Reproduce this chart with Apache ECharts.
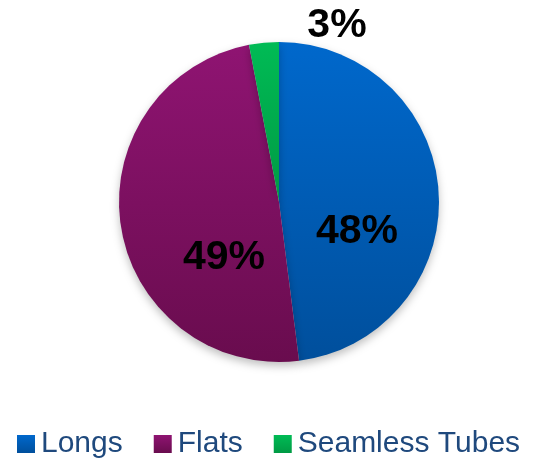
<!DOCTYPE html>
<html><head><meta charset="utf-8">
<script src="https://cdn.jsdelivr.net/npm/echarts@6/dist/echarts.min.js"></script>
<style>html,body{margin:0;padding:0;background:#fff}#c{width:554px;height:458px}</style>
</head><body><div id="c"></div>
<script>
const categories = ['Longs', 'Flats', 'Seamless Tubes'];
const values = [48, 49, 3];
const labelTexts = ['48%', '49%', '3%'];

const grads = [
  ['#0068cc', '#004f9c'],
  ['#8f1472', '#690c4e'],
  ['#00bb55', '#009a44']
];
const labelPos = [[357, 232], [224, 258], [337, 26]];

const chart = echarts.init(document.getElementById('c'));
chart.setOption({
  animation: false,
  legend: {
    left: 17, top: 429, padding: 0,
    itemWidth: 18, itemHeight: 18, itemGap: 31,
    icon: 'rect',
    textStyle: { fontFamily: 'Liberation Sans, Arial', fontSize: 30, color: '#1f497d', padding: [0,0,0,1] },
    data: categories
  },
  series: [{
    type: 'pie',
    center: [279, 202],
    radius: 160,
    startAngle: 90,
    clockwise: true,
    labelLine: { show: false },
    label: {
      show: true,
      position: 'inside',
      fontFamily: 'Liberation Sans, Arial',
      fontWeight: 'bold',
      fontSize: 41,
      color: '#000',
      formatter: p => labelTexts[p.dataIndex]
    },
    labelLayout: p => ({ x: labelPos[p.dataIndex][0], y: labelPos[p.dataIndex][1], align: 'center', verticalAlign: 'middle' }),
    itemStyle: { shadowBlur: 8, shadowOffsetY: 4, shadowColor: 'rgba(0,0,0,0.25)' },
    emphasis: { disabled: true },
    data: categories.map((n, i) => ({
      name: n, value: values[i],
      itemStyle: { color: new echarts.graphic.LinearGradient(0, 0, 0, 1, [{offset: 0, color: grads[i][0]}, {offset: 1, color: grads[i][1]}]) }
    }))
  }]
});
</script></body></html>
